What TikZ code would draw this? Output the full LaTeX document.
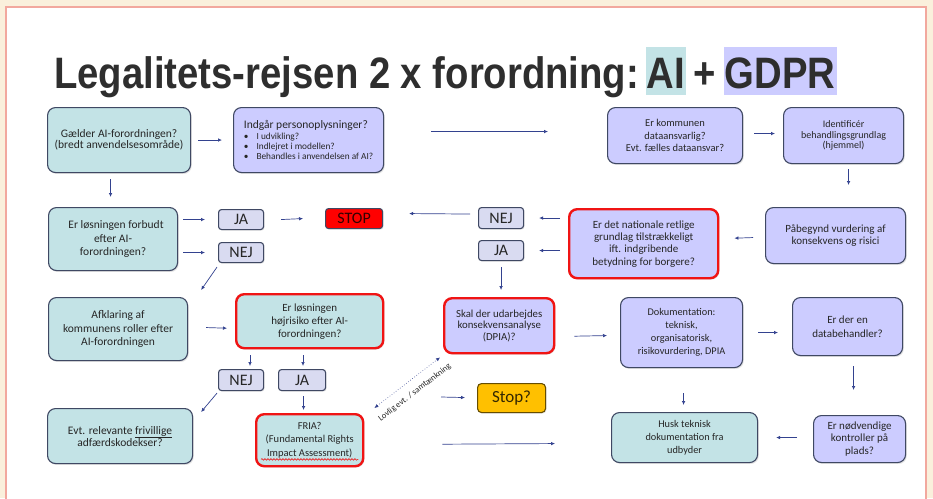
\documentclass[tikz,border=0pt]{standalone}
\usepackage{fontspec}
\usepackage{graphicx}
\setmainfont{Carlito}
\newfontfamily\titlefont{Liberation Sans}
\usetikzlibrary{calc,arrows.meta,shadows,decorations.pathmorphing}

\definecolor{pagebg}{HTML}{FAF0DC}
\definecolor{pageline}{HTML}{F2A89E}
\definecolor{tealfill}{HTML}{C3E3E6}
\definecolor{lavfill}{HTML}{CCCCFF}
\definecolor{boxline}{HTML}{3F4863}
\definecolor{alarm}{HTML}{F01414}
\definecolor{chipfill}{HTML}{D9DBF1}
\definecolor{stopred}{HTML}{FF0000}
\definecolor{amber}{HTML}{FFC000}
\definecolor{arrowblue}{HTML}{33428F}
\definecolor{ink}{HTML}{262626}
\definecolor{titleink}{HTML}{2E2E2E}

% horizontally condensed title type
\newcommand\condensed[1]{\scalebox{0.87}[1]{#1}}

\begin{document}
\begin{tikzpicture}[x=1pt,y=-1pt,
  bsize/.style 2 args={minimum width=#1pt, minimum height=#2pt},
  fs/.style 2 args={font=\fontsize{#1}{#2}\selectfont},
  box/.style={rounded corners=8pt, draw=boxline, line width=1.1pt, align=center,
    inner sep=1pt, text=ink, anchor=north west,
    drop shadow={opacity=0.22, shadow xshift=1.2pt, shadow yshift=-1.4pt}},
  tealbox/.style={box, fill=tealfill},
  lavbox/.style={box, fill=lavfill},
  alert/.style={draw=alarm, line width=2.4pt},
  chip/.style={rounded corners=3pt, draw=boxline, line width=1.1pt, fill=chipfill,
    font=\fontsize{16}{16}\selectfont, text=ink, anchor=north west, inner sep=0pt,
    drop shadow={opacity=0.2, shadow xshift=1pt, shadow yshift=-1pt}},
  arr/.style={draw=arrowblue, line width=0.7pt, -{Latex[length=4pt,width=3.6pt]}},
  dotarr/.style={draw=arrowblue, line width=0.6pt, dotted,
    {Latex[length=4pt,width=3.6pt]}-{Latex[length=4pt,width=3.6pt]}},
  titletext/.style={font=\titlefont\bfseries\fontsize{44}{44}\selectfont, text=titleink,
    inner ysep=0pt, inner xsep=1pt, text height=41pt, text depth=7pt, anchor=base west},
]
\useasboundingbox (0,0) rectangle (933,498);

% page
\fill[pagebg] (0,0) rectangle (933,498);
\fill[white] (6,7) rectangle (926,498);
\draw[pageline, line width=1.2pt] (6,505) -- (6,7) -- (926,7) -- (926,505);

% title
\node[titletext] (t1) at (53,88) {\condensed{Legalitets-rejsen 2 x forordning:}};
\node[titletext, fill=tealfill] (tai) at ($(t1.base east)+(5,0)$) {\condensed{AI}};
\node[titletext] (tplus) at ($(tai.base east)+(6,0)$) {\condensed{+}};
\node[titletext, fill=lavfill] (tgdpr) at ($(tplus.base east)+(7,0)$) {\condensed{GDPR}};

% row 1
\node[tealbox, bsize={143}{65}, fs={11.5}{11.5}] (gaelder) at (47,107)
  {Gælder AI-forordningen?\\(bredt anvendelsesområde)};
\node[lavbox, bsize={150}{65}, align=left, fs={9.3}{10}] (persondata) at (233,107)
  {{\fontsize{11.5}{11.5}\selectfont Indgår personoplysninger?}\\[0.5pt]
   \textbullet\hspace{8pt}I udvikling?\\
   \textbullet\hspace{8pt}Indlejret i modellen?\\
   \textbullet\hspace{8pt}Behandles i anvendelsen af AI?};
\node[lavbox, bsize={135}{56}, fs={10.5}{12.5}] (ansvar) at (607,107)
  {Er kommunen\\dataansvarlig?\\Evt. fælles dataansvar?};
\node[lavbox, bsize={120}{56}, fs={10}{10.5}] (hjemmel) at (783,107)
  {Identificér\\behandlingsgrundlag\\(hjemmel)};

% row 2
\node[tealbox, bsize={129}{63}, fs={11.5}{13.5}] (forbudt) at (48,207)
  {\hspace{6pt}Er løsningen forbudt\\efter AI-\\forordningen?};
\node[chip, bsize={45}{20}] (ja1) at (218,209) {JA};
\node[chip, bsize={45}{20}] (nej1) at (218,242) {NEJ};
\node[chip, bsize={57}{20}, fill=stopred, text=black!80!red] (stop) at (325,208) {STOP};
\node[chip, bsize={45}{21}] (nej2) at (478,207) {NEJ};
\node[chip, bsize={45}{20}] (ja2) at (478,240) {JA};
\node[lavbox, alert, bsize={149}{69}, fs={11}{12.3}] (national) at (568,208)
  {Er det nationale retlige\\grundlag tilstrækkeligt\\ift. indgribende\\betydning for borgere?};
\node[lavbox, bsize={140}{56}, fs={11}{11.5}] (risici) at (765,207)
  {Påbegynd vurdering af\\konsekvens og risici};

% row 3
\node[tealbox, bsize={139}{63}, fs={11.5}{13.5}] (roller) at (48,297)
  {Afklaring af\\kommunens roller efter\\AI-forordningen};
\node[tealbox, alert, bsize={147}{54}, fs={11}{13}] (hoejrisiko) at (235,293)
  {Er løsningen\\højrisiko efter AI-\\forordningen?};
\node[lavbox, alert, bsize={110}{55}, fs={10.8}{11.5}] (dpia) at (443,297)
  {Skal der udarbejdes\\konsekvensanalyse\\(DPIA)?};
\node[lavbox, bsize={122}{70}, fs={10.3}{13}] (dok) at (620,297)
  {Dokumentation:\\teknisk,\\organisatorisk,\\risikovurdering, DPIA};
\node[lavbox, bsize={110}{58}, fs={11}{14}] (dbh) at (792,297)
  {Er der en\\databehandler?};

% row 4
\node[chip, bsize={45}{21}] (nej3) at (218,369) {NEJ};
\node[chip, bsize={47}{21}] (ja3) at (278,369) {JA};
\node[tealbox, bsize={145}{55}, fs={11.5}{12}] (kodeks) at (47,408)
  {Evt. relevante \underline{frivillige}\\adfærdskodekser?};
\node[tealbox, alert, bsize={107}{52}, fs={10.5}{13.5}] (fria) at (255,413)
  {FRIA?\\(Fundamental Rights\\Impact Assessment)};
\node[chip, rounded corners=4pt, bsize={68}{29}, fill=amber, draw=black!60!amber,
  font=\fontsize{17}{17}\selectfont, text=black!80!amber] (stopq) at (477,383) {Stop?};
\node[tealbox, bsize={146}{50}, fs={10.3}{13}] (udbyder) at (611,412)
  {Husk teknisk\\dokumentation fra\\udbyder};
\node[lavbox, bsize={92}{47}, fs={11}{12.5}] (kontrol) at (813,415)
  {Er nødvendige\\kontroller på\\plads?};

% wavy underline on the FRIA subtitle
\draw[alarm, line width=0.6pt, decorate, decoration={snake, amplitude=0.8pt, segment length=3pt}]
  ($(fria.south west)+(6,-8)$) -- ($(fria.south east)+(-6,-8)$);

% connectors
\draw[arr] ($(gaelder.east)+(7,0)$) -- ($(persondata.west)+(-11,0)$);
\draw[arr] ($(persondata.east)+(47,-8.5)$) -- ($(ansvar.west)+(-59,-4)$);
\draw[arr] ($(ansvar.east)+(11,-2)$) -- ($(hjemmel.west)+(-8,-2)$);
\draw[arr] ($(hjemmel.south)+(5,5)$) -- ($(risici.north)+(13,-22)$);
\draw[arr] ($(gaelder.south)+(-8.5,6)$) -- ($(forbudt.north)+(-2.5,-10)$);

\draw[arr] ($(forbudt.east|-ja1.west)+(5,0)$) -- ($(ja1.west)+(-13,0)$);
\draw[arr] ($(forbudt.east|-nej1.west)+(5,0)$) -- ($(nej1.west)+(-13,0)$);
\draw[arr] ($(ja1.east)+(17,0)$) -- ($(stop.west)+(-22,0)$);
\draw[arr] ($(nej1.south west)+(-1,4)$) -- ($(roller.north east)+(13,-7)$);
\draw[arr] ($(nej2.west)+(-8,-4)$) -- ($(stop.east)+(26,-5)$);
\draw[arr] ($(national.west|-nej2.east)+(-8,0)$) -- ($(nej2.east)+(15,0)$);
\draw[arr] ($(national.west|-ja2.east)+(-8,0)$) -- ($(ja2.east)+(15,0)$);
\draw[arr] ($(risici.west)+(-12,2)$) -- ($(national.east)+(15,-5.5)$);
\draw[arr] ($(ja2.south)+(0,6)$) -- ($(ja2.south|-dpia.north)+(0,-7)$);

\draw[arr] ($(roller.east)+(18,-1.5)$) -- ($(hoejrisiko.west)+(-8,7)$);
\draw[arr] ($(hoejrisiko.south west)+(15,6)$) -- ($(hoejrisiko.south west|-nej3.north)+(15,-3)$);
\draw[arr] ($(hoejrisiko.south west)+(68,6)$) -- ($(hoejrisiko.south west|-ja3.north)+(68,-3)$);
\draw[arr] ($(dpia.east)+(19,10.5)$) -- ($(dok.west)+(-13,3)$);
\draw[arr] ($(dok.east)+(15,0)$) -- ($(dbh.west)+(-14,6)$);

\draw[arr] ($(nej3.south west)+(-1,2)$) -- ($(kodeks.north east)+(8,4)$);
\draw[arr] ($(ja3.south)+(1.5,5)$) -- ($(ja3.south|-fria.north)+(1.5,-3)$);
\draw[dotarr] ($(fria.north east)+(10,-5)$) --
  node[sloped, below=5pt, font=\fontsize{8.5}{8.5}\selectfont, text=ink] {Lovlig evt. / samtænkning}
  ($(dpia.south west)+(-3,3)$);
\coordinate (stopq-in) at (441,397);
\draw[arr] (stopq-in) -- ($(stopq.west)+(-12,-0.5)$);
\draw[arr] ($(fria.east)+(78,4)$) -- ($(udbyder.west)+(-56,6)$);
\draw[arr] ($(dok.south)+(2,25)$) -- ($(udbyder.north)+(-1,-7)$);
\draw[arr] ($(dbh.south)+(6,10)$) -- ($(dbh.south|-kontrol.north)+(6,-25)$);
\draw[arr] ($(kontrol.west)+(-16,-1.5)$) -- ($(udbyder.east)+(18,0)$);
\end{tikzpicture}
\end{document}
